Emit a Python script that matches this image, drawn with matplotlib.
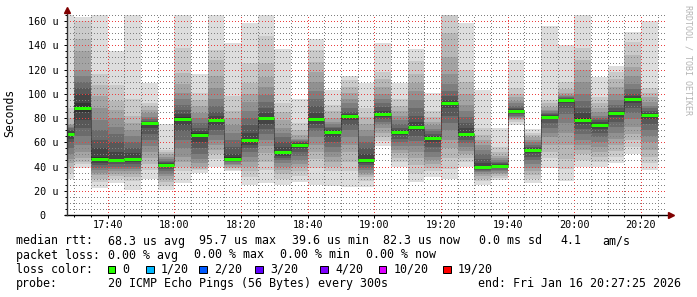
import matplotlib
matplotlib.use("Agg")
import matplotlib.pyplot as plt
from matplotlib.ticker import MultipleLocator, FuncFormatter
from matplotlib.patches import Rectangle

# 5 minute slots (start time) with the 20 sorted ping rtts (us) of each slot
slot_start = ["17:25", "17:30", "17:35", "17:40", "17:45", "17:50", "17:55",
              "18:00", "18:05", "18:10", "18:15", "18:20", "18:25", "18:30",
              "18:35", "18:40", "18:45", "18:50", "18:55", "19:00", "19:05",
              "19:10", "19:15", "19:20", "19:25", "19:30", "19:35", "19:40",
              "19:45", "19:50", "19:55", "20:00", "20:05", "20:10", "20:15",
              "20:20"]

median_rtt = [66.5, 88.5, 46.5, 45.0, 46.2, 75.5, 41.5, 79.2, 66.3, 78.0,
              46.5, 61.5, 79.7, 51.7, 57.5, 79.0, 68.4, 81.9, 45.0, 83.3,
              68.3, 72.2, 63.3, 92.6, 67.0, 39.6, 40.8, 86.2, 53.9, 81.2,
              94.8, 78.6, 74.0, 83.8, 95.7, 82.3]

pings = [
    [30, 35, 40, 43, 46, 50, 55, 60, 63, 65.5, 67.5, 69, 70, 72, 73, 74, 75, 80, 88, 175],
    [39, 42, 44, 47, 52, 58, 65, 72, 78, 85, 92, 100, 105, 110, 115, 120, 135, 145, 160, 163],
    [22, 27, 30, 33, 35, 37, 39, 41, 43, 45.5, 48, 55, 62, 70, 78, 88, 98, 107, 116, 175],
    [26, 30, 32, 34, 36, 38, 40, 42, 43.5, 44.5, 46, 52, 60, 67, 73, 80, 87, 94, 107, 135],
    [21, 28, 31, 34, 36, 38, 40, 42, 44, 45.5, 47, 51, 55, 60, 65, 70, 76, 82, 96, 175],
    [30, 37, 42, 47, 52, 57, 62, 67, 72, 75, 76.5, 77, 77.5, 79, 81, 84, 87, 90, 92, 109],
    [21, 24, 27, 30, 32, 34, 36, 38, 40, 41, 42, 42.5, 43.5, 44.5, 46, 48, 50, 52, 54, 75],
    [26, 36, 40, 44, 48, 55, 62, 69, 74, 78, 81, 83, 87, 91, 96, 101, 108, 117, 138, 175],
    [35, 37, 38, 40, 43, 46, 50, 55, 60, 65, 67.5, 69, 72, 76, 80, 84, 90, 95, 101, 116],
    [40, 46, 50, 54, 58, 62, 66, 70, 74, 77, 79.5, 82, 85, 90, 96, 105, 115, 128, 136, 175],
    [36, 37.5, 39, 40, 41, 42, 43.5, 44.5, 45.5, 46, 47.5, 50, 56, 62, 68, 74, 80, 86, 98, 142],
    [25, 31, 36, 40, 44, 48, 52, 55, 58, 60.5, 63, 68, 74, 80, 86, 93, 100, 109, 125, 158],
    [26, 37, 44, 51, 57, 62, 67, 71, 75, 78.5, 81, 84, 88, 93, 99, 106, 114, 125, 148, 175],
    [25, 30, 34, 37, 40, 43, 45, 47, 49, 51, 53, 56, 60, 64, 68, 72, 78, 85, 92, 137],
    [27, 32, 36, 40, 42, 45, 49, 52, 55, 57, 58, 59, 60, 61, 62, 63, 66, 70, 76, 96],
    [25, 39, 46, 52, 58, 64, 69, 72, 75, 78, 80, 84, 90, 96, 102, 110, 118, 126, 136, 145],
    [24, 36, 40, 44, 48, 52, 56, 60, 64, 67.5, 69, 70, 71.5, 73, 75, 77, 80, 86, 91, 103],
    [23, 36, 44, 52, 58, 64, 70, 74, 78, 81.5, 82.5, 83.5, 85, 88, 92, 96, 101, 106, 111, 115],
    [23, 28, 31, 33, 35, 37, 39, 41, 43, 44, 46, 50, 55, 60, 65, 70, 75, 81, 88, 109],
    [57, 61, 64, 68, 72, 75, 77, 79, 81, 82.8, 84, 86, 89, 92, 96, 100, 106, 112, 118, 142],
    [40, 44, 47, 51, 54, 57, 60, 63, 66, 68, 69, 70, 72, 75, 78, 82, 86, 90, 96, 109],
    [27, 34, 41, 47, 52, 57, 61, 65, 69, 71.5, 73, 77, 82, 88, 95, 102, 109, 116, 127, 137],
    [31, 36, 39, 42, 45, 48, 52, 56, 60, 62.5, 64, 65.5, 67, 69, 71, 74, 77, 81, 86, 101],
    [30, 38, 47, 55, 62, 70, 76, 82, 88, 92, 93.5, 95, 98, 102, 108, 116, 130, 150, 170, 175],
    [40, 44, 47, 50, 53, 56, 59, 62, 64.5, 66, 68, 72, 76, 81, 86, 91, 100, 110, 120, 158],
    [25, 28, 30, 32, 34, 35.5, 36.5, 37.5, 38.3, 39, 40.5, 43, 46, 50, 54, 58, 62, 66, 72, 103],
    [29, 30.5, 32, 33.5, 35, 36, 37, 38.5, 39.5, 40.5, 41.5, 42, 43, 44, 45.5, 47, 49, 52, 56, 72],
    [74.5, 77, 78, 79, 80, 81, 82, 83, 84, 85.5, 86.5, 87.5, 88.5, 90, 92, 94, 97, 100, 105, 128],
    [26, 30, 33, 36, 39, 42, 45, 48, 51, 53.5, 54.3, 55, 56, 58, 60, 62, 64, 66, 68, 71],
    [39, 47, 52, 58, 64, 68, 72, 76, 79, 80.8, 81.8, 82.5, 83.5, 84.5, 85.5, 87, 89, 92, 95, 156],
    [28, 38, 46, 58, 68, 76, 83, 88, 92, 94.5, 95.3, 95.8, 96.3, 97, 98, 99, 101, 104, 110, 140],
    [40, 45, 50, 54, 58, 62, 67, 71, 75, 78, 80, 84, 88, 94, 100, 110, 120, 128, 138, 175],
    [40, 44, 48, 52, 56, 60, 64, 68, 71, 73.5, 75, 76.5, 78, 80, 82, 85, 88, 92, 97, 114],
    [43, 48, 53, 58, 63, 68, 73, 77, 81, 83, 85, 86, 88, 91, 95, 100, 106, 112, 118, 123],
    [50, 56, 62, 67, 73, 79, 84, 88, 92, 95, 96.5, 98, 100, 104, 108, 115, 122, 132, 143, 151],
    [37, 43, 48, 54, 60, 65, 70, 75, 79, 82, 83, 84.5, 86, 88, 90, 93, 97, 101, 105, 160],
]

loss_labels = ["0", "1/20", "2/20", "3/20", "4/20", "10/20", "19/20"]
loss_colors = ["#26ff00", "#00b8ff", "#0059ff", "#5e00ff", "#7e00ff", "#dd00ff", "#ff0000"]

rtt_stats = ["68.3 us avg", "95.7 us max", "39.6 us min", "82.3 us now", "0.0 ms sd", "4.1", "am/s"]
loss_stats = ["0.00 % avg", "0.00 % max", "0.00 % min", "0.00 % now"]


def to_min(hhmm):
    h, m = hhmm.split(":")
    return (int(h) - 17) * 60 + int(m)


plt.rcParams["font.family"] = "DejaVu Sans Mono"

W, H = 697, 297
fig = plt.figure(figsize=(W / 100, H / 100), dpi=100)
fig.patch.set_facecolor("white")
ax = fig.add_axes([67 / W, 1 - 215 / H, 600 / W, 200 / H])

starts = [to_min(s) for s in slot_start]
srt = [sorted(p) for p in pings]

# smoke: band k lies between ping k and k+1, darker towards the median
for k in range(19):
    ibot = min(k + 1, 19 - k)
    g = (19 * (10 - ibot) + 50) / 255
    lo = [p[k] for p in srt]
    hi = [p[k + 1] - p[k] for p in srt]
    ax.bar(starts, hi, bottom=lo, width=5, align="edge", color=(g, g, g),
           linewidth=0, antialiased=False, zorder=1)

# median line: dark step connectors plus green (0 loss) segments
ax.plot(starts + [starts[-1] + 5], median_rtt + [median_rtt[-1]],
        drawstyle="steps-post", color="#202020", lw=0.72,
        linestyle=(0, (1, 1)), zorder=3)
ax.hlines(median_rtt, starts, [s + 5 for s in starts], colors=loss_colors[0],
          lw=2.16, zorder=4)

ax.set_xlim(27.8, 207.8)
ax.set_ylim(0, 165)

ax.xaxis.set_major_locator(MultipleLocator(20))
ax.xaxis.set_minor_locator(MultipleLocator(5))
ax.yaxis.set_major_locator(MultipleLocator(20))
ax.yaxis.set_minor_locator(MultipleLocator(5))
ax.xaxis.set_major_formatter(FuncFormatter(lambda v, _: f"{17 + int(v) // 60}:{int(v) % 60:02d}"))
ax.yaxis.set_major_formatter(FuncFormatter(lambda v, _: f"{int(v)} u" if v else "0  "))

ax.set_axisbelow(False)
ax.grid(which="minor", color=(0.5, 0.5, 0.5, 0.27), linestyle=(0.5, (1, 2)), linewidth=0.72)
ax.grid(which="major", color=(0.92, 0.25, 0.25, 0.4), linestyle=(0.5, (1, 2)), linewidth=0.72)

for s in ax.spines.values():
    s.set_visible(False)
ax.tick_params(which="both", direction="out", color="black", width=0.72, labelsize=7.3)
ax.tick_params(which="major", length=2.2)
ax.tick_params(which="minor", length=1.4)
ax.tick_params(axis="x", which="major", pad=1.5)
ax.tick_params(axis="y", which="major", pad=4)

# axes with arrows
ax.plot([-0.004, 1.006], [0, 0], transform=ax.transAxes, color="black", lw=1, clip_on=False, zorder=6)
ax.plot([0, 0], [0, 1.022], transform=ax.transAxes, color="#333333", lw=1, clip_on=False, zorder=6)
ax.plot([1.007], [0], transform=ax.transAxes, marker=">", ms=4, color="#800000", clip_on=False, zorder=7)
ax.plot([0], [1.025], transform=ax.transAxes, marker="^", ms=4, color="#800000", clip_on=False, zorder=7)

fig.text(10 / W, 1 - 113 / H, "Seconds", rotation=90, ha="center", va="center", fontsize=8.3)
fig.text(688 / W, 1 - 5 / H, "RRDTOOL / TOBI OETIKER", rotation=270, ha="center", va="top",
         fontsize=6, color="#b4b4b4")


def put(x, y, s, **kw):
    fig.text(x / W, 1 - y / H, s, va="center", fontsize=8.4, **kw)


# legend rows
put(16, 241, "median rtt:")
for x, s in zip([107.7, 199, 292, 383, 479, 560, 602], rtt_stats):
    put(x, 241, s)

put(16, 255, "packet loss:")
for x, s in zip([107.7, 194, 280, 366], loss_stats):
    put(x, 255, s)

put(16, 269.5, "loss color:")
box_x = [107.5, 146, 199, 255, 320, 378.5, 443]
for bx, lab, col in zip(box_x, loss_labels, loss_colors):
    fig.add_artist(Rectangle((bx / W, 1 - 273.3 / H), 7.7 / W, 7.7 / H, transform=fig.transFigure,
                             facecolor=col, edgecolor="black", lw=0.72))
    put(bx + 15, 269.5, lab)

put(16, 283.5, "probe:")
put(107.7, 283.5, "20 ICMP Echo Pings (56 Bytes) every 300s")
put(681, 283.5, "end: Fri Jan 16 20:27:25 2026", ha="right")

fig.savefig("out.png", dpi=100, facecolor="white")
